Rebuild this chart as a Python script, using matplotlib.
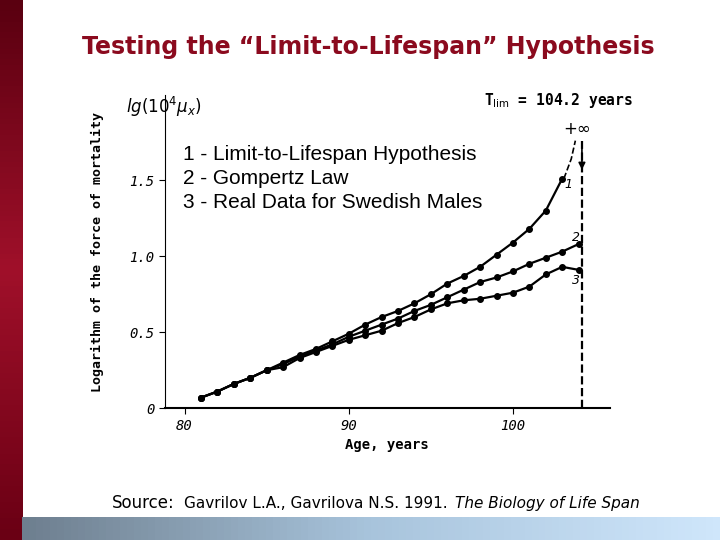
import matplotlib
matplotlib.use("Agg")
import matplotlib.pyplot as plt
import numpy as np

ages = list(range(81, 105))
# curve 1: limit-to-lifespan hypothesis (81..103)
limit_vals = [0.07, 0.11, 0.16, 0.20, 0.25, 0.30, 0.35, 0.39, 0.44, 0.49, 0.55, 0.60,
              0.64, 0.69, 0.75, 0.82, 0.87, 0.93, 1.01, 1.09, 1.18, 1.30, 1.51]
# curve 2: Gompertz law (81..104)
gompertz_vals = [0.07, 0.11, 0.16, 0.20, 0.25, 0.29, 0.34, 0.38, 0.42, 0.47, 0.51, 0.55,
                 0.59, 0.64, 0.68, 0.73, 0.78, 0.83, 0.86, 0.90, 0.95, 0.99, 1.03, 1.08]
# curve 3: real data for Swedish males (81..104)
real_vals = [0.07, 0.11, 0.16, 0.20, 0.25, 0.27, 0.33, 0.37, 0.41, 0.45, 0.48, 0.51,
             0.56, 0.60, 0.65, 0.69, 0.71, 0.72, 0.74, 0.76, 0.80, 0.88, 0.93, 0.91]
t_lim = 104.2
legend_lines = ["1 - Limit-to-Lifespan Hypothesis", "2 - Gompertz Law",
                "3 - Real Data for Swedish Males"]

fig = plt.figure(figsize=(7.2, 5.4), dpi=100)
fig.patch.set_facecolor("white")

# slide decorations
left_bar = fig.add_axes([0, 0, 0.031, 1])
left_bar.imshow(np.linspace(0, 1, 100).reshape(-1, 1), aspect="auto",
                cmap=matplotlib.colors.LinearSegmentedColormap.from_list("r", ["#5a0010", "#a0102a", "#6a0014"]))
left_bar.axis("off")
bottom_bar = fig.add_axes([0.031, 0, 0.969, 0.043])
bottom_bar.imshow(np.linspace(0, 1, 100).reshape(1, -1), aspect="auto",
                  cmap=matplotlib.colors.LinearSegmentedColormap.from_list("b", ["#6e7f8f", "#a8c4dc", "#cfe6fb"]))
bottom_bar.axis("off")

fig.text(0.512, 0.9, "Testing the \u201cLimit-to-Lifespan\u201d Hypothesis", ha="center",
         fontsize=17, fontweight="bold", color="#8b0a1e", family="DejaVu Sans")

ax = fig.add_axes([0.229, 0.244, 0.618, 0.58])
mono = "DejaVu Sans Mono"
ax.plot(ages[:len(limit_vals)], limit_vals, "-o", color="black", ms=4, lw=1.6)
ax.plot(ages, gompertz_vals, "-o", color="black", ms=4, lw=1.6)
ax.plot(ages, real_vals, "-o", color="black", ms=4, lw=1.6)
ax.plot([103.1, 103.55, 103.8], [1.51, 1.64, 1.76], "--", color="black", lw=1.2)
ax.axvline(t_lim, ymax=1.76 / 2.06, color="black", ls="--", lw=1.6)
ax.annotate("", xy=(t_lim, 1.55), xytext=(t_lim, 1.76),
            arrowprops=dict(arrowstyle="-|>", color="black", lw=1.2))
ax.text(103.9, 1.78, "+\u221e", fontsize=12, ha="center", va="bottom")
ax.text(103.15, 1.45, "1", fontsize=9, style="italic")
ax.text(103.6, 1.1, "2", fontsize=9, style="italic")
ax.text(103.6, 0.82, "3", fontsize=9, style="italic")

ax.set_xlim(78.8, 105.9)
ax.set_ylim(0, 2.06)
for s in ("top", "right"):
    ax.spines[s].set_visible(False)
ax.spines["bottom"].set_linewidth(1.5)
ax.spines["left"].set_linewidth(0.8)
ax.set_xticks([80, 90, 100])
ax.set_xticklabels(["80", "90", "100"], style="italic", family=mono, fontsize=10)
ax.set_yticks([0, 0.5, 1.0, 1.5])
ax.set_yticklabels(["0", "0.5", "1.0", "1.5"], style="italic", family=mono, fontsize=10)
ax.tick_params(direction="out", length=4)
ax.set_xlabel("Age, years", family=mono, fontsize=10, fontweight="bold")
ax.set_ylabel("Logarithm of the force of mortality", family=mono, fontsize=9.5,
              fontweight="bold", labelpad=18)

for i, line in enumerate(legend_lines):
    ax.text(79.9, 1.67 - i * 0.16, line, fontsize=15, family="Liberation Sans", va="center")

fig.text(0.175, 0.79, r"$lg(10^4\mu_x)$", fontsize=12)
fig.text(0.672, 0.805, r"T$_{\rm lim}$ = 104.2 years", fontsize=10.5, family=mono, fontweight="bold")

fig.text(0.155, 0.06, "Source:", fontsize=12, family="DejaVu Sans")
fig.text(0.255, 0.06, "Gavrilov L.A., Gavrilova N.S. 1991.", fontsize=11, family="DejaVu Sans")
fig.text(0.632, 0.06, "The Biology of Life Span", fontsize=11, style="italic", family="DejaVu Sans")

fig.savefig("out.png", dpi=100)
